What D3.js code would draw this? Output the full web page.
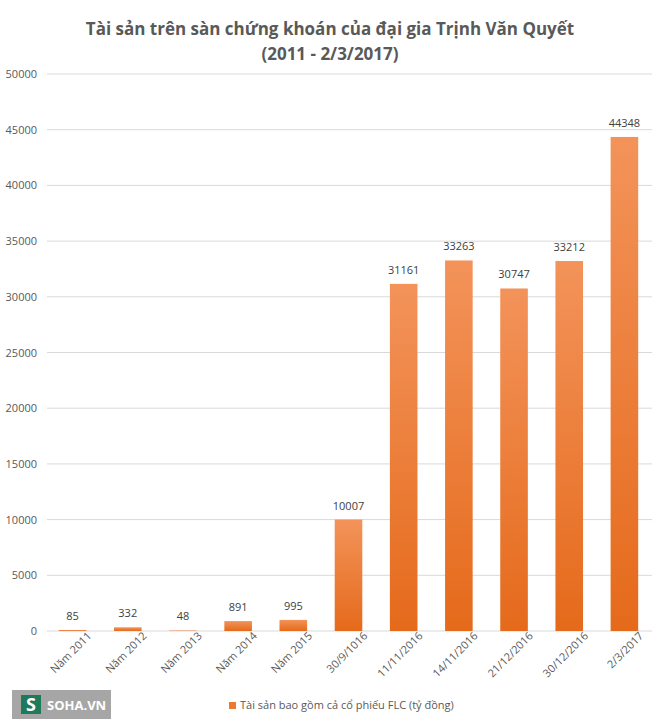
<!DOCTYPE html>
<html>
<head>
<meta charset="utf-8">
<script src="https://cdn.jsdelivr.net/npm/d3@7"></script>
<style>
  body { margin: 0; background: #fff; }
  text { font-family: "Open Sans", "Noto Sans", sans-serif; }
</style>
</head>
<body>
<div id="chart"></div>
<script>
var categories = ["Năm 2011", "Năm 2012", "Năm 2013", "Năm 2014", "Năm 2015", "30/9/1016",
    "11/11/2016", "14/11/2016", "21/12/2016", "30/12/2016", "2/3/2017"];
var values = [85, 332, 48, 891, 995, 10007, 31161, 33263, 30747, 33212, 44348];
var yTicks = [0, 5000, 10000, 15000, 20000, 25000, 30000, 35000, 40000, 45000, 50000];
var seriesName = "Tài sản bao gồm cả cổ phiếu FLC (tỷ đồng)";
var titleLines = ["Tài sản trên sàn chứng khoán của đại gia Trịnh Văn Quyết", "(2011 - 2/3/2017)"];

var W = 660, H = 723;
var margin = { top: 74, right: 8, bottom: 92, left: 45 },
    width = W - margin.left - margin.right,
    height = H - margin.top - margin.bottom;

var svg = d3.select("#chart").append("svg")
    .attr("width", W)
    .attr("height", H);

var defs = svg.append("defs");
var grad = defs.append("linearGradient")
    .attr("id", "barGrad")
    .attr("x1", 0).attr("y1", 0).attr("x2", 0).attr("y2", 1);
grad.append("stop").attr("offset", "0%").attr("stop-color", "#f3935a");
grad.append("stop").attr("offset", "100%").attr("stop-color", "#e56a1b");

// title
svg.selectAll(".title")
    .data(titleLines)
    .enter().append("text")
    .attr("class", "title")
    .attr("x", W / 2)
    .attr("y", function(d, i) { return 35 + i * 25; })
    .attr("text-anchor", "middle")
    .style("font-size", "17px")
    .style("font-weight", "bold")
    .style("fill", "#595959")
    .text(function(d) { return d; });

var g = svg.append("g")
    .attr("transform", "translate(" + margin.left + "," + margin.top + ")");

var x = d3.scaleBand()
    .domain(categories)
    .range([0, width])
    .paddingInner(0.5)
    .paddingOuter(0.25);

var y = d3.scaleLinear()
    .domain([0, 50000])
    .range([height, 0]);

// gridlines
g.selectAll(".grid")
    .data(yTicks)
    .enter().append("line")
    .attr("class", "grid")
    .attr("x1", 2)
    .attr("x2", width)
    .attr("y1", function(d) { return y(d); })
    .attr("y2", function(d) { return y(d); })
    .style("stroke", "#d9d9d9")
    .style("stroke-width", 1);

var yAxis = d3.axisLeft(y)
    .tickValues(yTicks)
    .tickFormat(d3.format("d"))
    .tickSize(0)
    .tickPadding(8);

g.append("g")
    .attr("class", "y axis")
    .call(yAxis)
    .call(function(s) { s.select(".domain").remove(); })
    .selectAll("text")
    .style("font-size", "11px")
    .style("font-family", "'Open Sans', sans-serif")
    .style("fill", "#595959");

// bars
g.selectAll(".bar")
    .data(values)
    .enter().append("rect")
    .attr("class", "bar")
    .attr("x", function(d, i) { return x(categories[i]); })
    .attr("width", x.bandwidth())
    .attr("y", function(d) { return y(d); })
    .attr("height", function(d) { return height - y(d); })
    .attr("fill", "url(#barGrad)");

// value labels
g.selectAll(".val")
    .data(values)
    .enter().append("text")
    .attr("class", "val")
    .attr("x", function(d, i) { return x(categories[i]) + x.bandwidth() / 2; })
    .attr("y", function(d) { return y(d) - 10; })
    .attr("text-anchor", "middle")
    .style("font-size", "11px")
    .style("fill", "#404040")
    .text(function(d) { return d; });

// x axis
var xAxis = d3.axisBottom(x).tickSize(0).tickPadding(8);
g.append("g")
    .attr("class", "x axis")
    .attr("transform", "translate(0," + height + ")")
    .call(xAxis)
    .call(function(s) { s.select(".domain").remove(); })
    .selectAll("text")
    .attr("text-anchor", "end")
    .attr("dx", "0.9em")
    .attr("dy", "0.9em")
    .attr("transform", "rotate(-45)")
    .style("font-size", "11px")
    .style("font-family", "'Open Sans', sans-serif")
    .style("fill", "#595959");

// legend
var legend = svg.append("g").attr("transform", "translate(229,702)");
legend.append("rect")
    .attr("width", 7).attr("height", 7)
    .attr("y", 0)
    .attr("fill", "#ec7a30");
legend.append("text")
    .attr("x", 11).attr("y", 7)
    .style("font-size", "11px")
    .style("fill", "#595959")
    .text(seriesName);

// logo
var logo = svg.append("g").attr("transform", "translate(12,690)");
logo.append("rect").attr("width", 99).attr("height", 29).attr("fill", "#a6a6a6");
logo.append("rect").attr("x", 9).attr("y", 5).attr("width", 20).attr("height", 19).attr("fill", "#1f7a5c");
logo.append("text").attr("x", 19).attr("y", 21).attr("text-anchor", "middle")
    .style("font-size", "18px").style("font-weight", "bold").style("fill", "#fff").text("S");
logo.append("text").attr("x", 35).attr("y", 20)
    .style("font-size", "13px").style("font-weight", "bold").style("fill", "#fff").text("SOHA.VN");
</script>
</body>
</html>
